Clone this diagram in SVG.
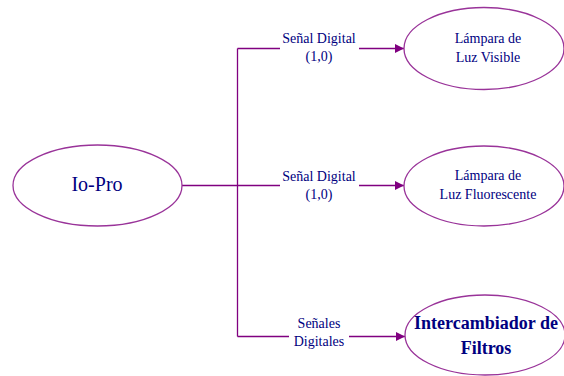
<svg xmlns="http://www.w3.org/2000/svg" width="564" height="376" viewBox="0 0 564 376">
<style>
.node{fill:#ffffff;stroke:#993399;stroke-width:1.3}
text{fill:#000080;text-anchor:middle}
.s{font-size:14px}
.b{font-size:20px}
.m{font-size:18px;font-weight:bold}
.edge{fill:none;stroke:#800080;stroke-width:1.3}
</style>
<defs>
<marker id="arr" markerWidth="10" markerHeight="9" refX="9" refY="4.5" orient="auto" markerUnits="userSpaceOnUse">
<path d="M0,0 L9,4.5 L0,9 Z" fill="#800080"/>
</marker>
</defs>
<rect width="564" height="376" fill="#ffffff"/>
<g id="connectors" font-family="Liberation Serif, DejaVu Serif, serif">
<path class="edge" d="M182,185.5 H237.5"/>
<path class="edge" d="M237.5,48.5 V336.5"/>
<path class="edge" d="M237.5,48.5 H280"/>
<path class="edge" d="M359,48.5 H404" marker-end="url(#arr)"/>
<path class="edge" d="M237.5,185.5 H280"/>
<path class="edge" d="M359,185.5 H404" marker-end="url(#arr)"/>
<path class="edge" d="M237.5,336.5 H289"/>
<path class="edge" d="M349,336.5 H405" marker-end="url(#arr)"/>
<text class="s" x="319" y="43">Señal Digital</text>
<text class="s" x="319" y="61">(1,0)</text>
<text class="s" x="319" y="181">Señal Digital</text>
<text class="s" x="319" y="199">(1,0)</text>
<text class="s" x="319" y="328">Señales</text>
<text class="s" x="319" y="346">Digitales</text>
</g>
<g id="io-pro" font-family="Liberation Serif, DejaVu Serif, serif">
<ellipse class="node" cx="97.5" cy="185.5" rx="84.5" ry="40.5"/>
<text class="b" x="97" y="191">Io-Pro</text>
</g>
<g id="lampara-visible" font-family="Liberation Serif, DejaVu Serif, serif">
<ellipse class="node" cx="484" cy="48.5" rx="80" ry="41"/>
<text class="s" x="488" y="43">Lámpara de</text>
<text class="s" x="488" y="62">Luz Visible</text>
</g>
<g id="lampara-fluorescente" font-family="Liberation Serif, DejaVu Serif, serif">
<ellipse class="node" cx="484" cy="186" rx="80" ry="40"/>
<text class="s" x="488" y="180">Lámpara de</text>
<text class="s" x="488" y="199">Luz Fluorescente</text>
</g>
<g id="intercambiador" font-family="Liberation Serif, DejaVu Serif, serif">
<ellipse class="node" cx="485" cy="335" rx="80" ry="40"/>
<text class="m" x="486" y="329">Intercambiador de</text>
<text class="m" x="486" y="354">Filtros</text>
</g>
</svg>
